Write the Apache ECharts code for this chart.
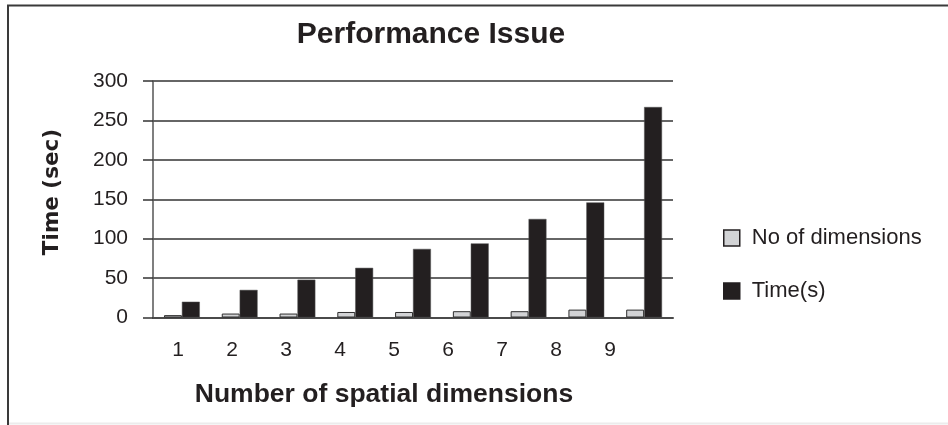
<!DOCTYPE html>
<html>
<head>
<meta charset="utf-8">
<title>Performance Issue</title>
<script src="https://cdn.jsdelivr.net/npm/echarts@6/dist/echarts.min.js"></script>
<style>
  html, body { margin: 0; padding: 0; background: #ffffff; }
  #chart { width: 948px; height: 425px; }
</style>
</head>
<body>
<div id="chart"></div>
<script>
// Categories: number of spatial dimensions
const categories = ['1', '2', '3', '4', '5', '6', '7', '8', '9'];
// Series values
const noOfDimensions = [3, 5, 5, 7, 7, 8, 8, 10, 10];
const timeSeconds = [20, 35, 48, 63, 87, 94, 125, 146, 267];
// Value axis ticks
const yTicks = [0, 50, 100, 150, 200, 250, 300];

const FONT = '"Liberation Sans", Arial, Helvetica, sans-serif';
const INK = '#231f20';

const chart = echarts.init(document.getElementById('chart'), null, { renderer: 'canvas' });

chart.setOption({
  backgroundColor: '#ffffff',
  animation: false,
  textStyle: { fontFamily: FONT },
  graphic: [
    // frame edges
    { type: 'line', shape: { x1: 7, y1: 5.5, x2: 948, y2: 5.5 }, style: { stroke: '#3a3a3a', lineWidth: 2 } },
    { type: 'line', shape: { x1: 8, y1: 5, x2: 8, y2: 425 }, style: { stroke: '#3a3a3a', lineWidth: 2 } },
    { type: 'line', shape: { x1: 9, y1: 423.5, x2: 948, y2: 423.5 }, style: { stroke: '#ececec', lineWidth: 2 } },
    // chart title
    {
      type: 'text', x: 431, y: 35,
      style: { text: 'Performance Issue', font: 'bold 30px ' + FONT, fill: INK, textAlign: 'center', textVerticalAlign: 'middle' }
    },
    // category axis title
    {
      type: 'text', x: 384, y: 395,
      style: { text: 'Number of spatial dimensions', font: 'bold 26.5px ' + FONT, fill: INK, textAlign: 'center', textVerticalAlign: 'middle' }
    },
    // value axis title
    {
      type: 'text', x: 52, y: 192, rotation: Math.PI / 2,
      style: { text: 'Time (sec)', font: 'bold 21.5px "DejaVu Sans", ' + FONT, fill: INK, textAlign: 'center', textVerticalAlign: 'middle' }
    }
  ],
  legend: {
    orient: 'vertical',
    left: 723,
    top: 227,
    padding: 0,
    itemWidth: 16,
    itemHeight: 16,
    itemGap: 31,
    icon: 'rect',
    itemStyle: { borderColor: '#231f20', borderWidth: 1.5 },
    textStyle: { fontSize: 22, color: INK, fontFamily: FONT, padding: [0, 0, 0, 7] },
    data: ['No of dimensions', 'Time(s)']
  },
  grid: [
    { left: 153, top: 81, width: 520, height: 236.5 },
    { left: 151, top: 81, width: 486, height: 236.5 }
  ],
  xAxis: [
    {
      type: 'category',
      gridIndex: 0,
      data: categories,
      axisLine: { show: true, lineStyle: { color: '#4a4a4a', width: 2 } },
      axisTick: { show: false },
      axisLabel: { show: false },
      splitLine: { show: false }
    },
    {
      // tick labels for the categories
      type: 'category',
      gridIndex: 1,
      data: categories,
      axisLine: { show: false },
      axisTick: { show: false },
      axisLabel: { show: true, fontSize: 21, color: INK, margin: 22, fontFamily: FONT },
      splitLine: { show: false }
    }
  ],
  yAxis: [
    {
      type: 'value',
      gridIndex: 0,
      min: yTicks[0],
      max: yTicks[yTicks.length - 1],
      interval: yTicks[1] - yTicks[0],
      axisLine: { show: true, lineStyle: { color: '#555555', width: 1.5 } },
      axisTick: { show: true, inside: false, length: 10, lineStyle: { color: '#333333', width: 1.5 } },
      axisLabel: { fontSize: 21, color: INK, margin: 25, fontFamily: FONT },
      splitLine: { show: true, lineStyle: { color: '#333333', width: 1.5 } }
    },
    {
      type: 'value',
      gridIndex: 1,
      min: 0,
      max: 300,
      show: false
    }
  ],
  series: [
    {
      name: 'No of dimensions',
      type: 'bar',
      xAxisIndex: 0,
      yAxisIndex: 0,
      data: noOfDimensions,
      barGap: '0%',
      barCategoryGap: '38%',
      itemStyle: { color: '#d2d3d5', borderColor: '#2e2e2e', borderWidth: 1 }
    },
    {
      name: 'Time(s)',
      type: 'bar',
      xAxisIndex: 0,
      yAxisIndex: 0,
      data: timeSeconds,
      barGap: '0%',
      barCategoryGap: '38%',
      itemStyle: { color: '#231f20', borderColor: '#555555', borderWidth: 0.5 }
    }
  ]
});
</script>
</body>
</html>
